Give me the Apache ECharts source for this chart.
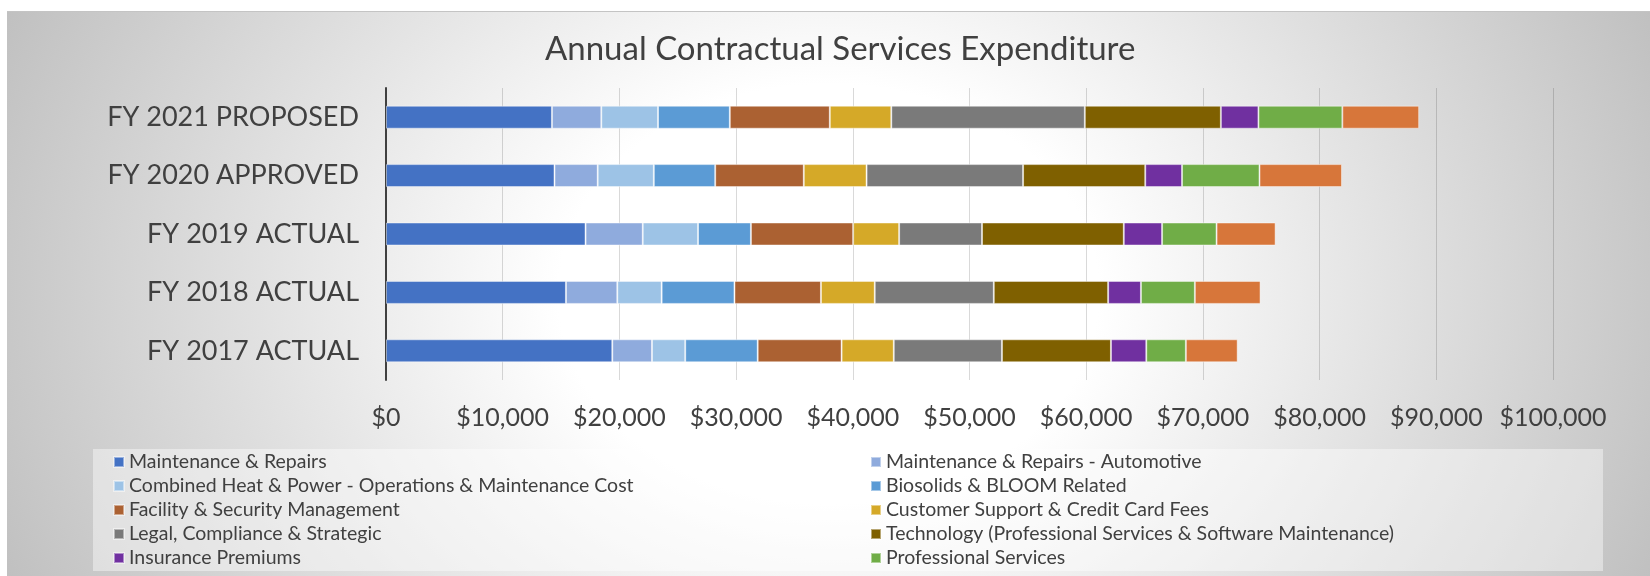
<!DOCTYPE html>
<html>
<head>
<meta charset="utf-8">
<script src="https://cdn.jsdelivr.net/npm/echarts@6/dist/echarts.min.js"></script>
<style>
  html, body { margin: 0; padding: 0; background: #ffffff; }
  #wrap { position: relative; width: 1650px; height: 576px; overflow: hidden; }
  #bg {
    position: absolute; left: 7px; top: 11px; right: 0; bottom: 0;
    border-top: 1px solid #c4c4c4;
    background: radial-gradient(ellipse 900px 700px at 50% 50%, #ffffff 0%, #ffffff 30%, #c0c0c0 100%);
  }
  #chart { position: absolute; left: 0; top: 0; width: 1650px; height: 576px; }
</style>
</head>
<body>
<div id="wrap">
  <div id="bg"></div>
  <div id="chart"></div>
</div>
<script>
// ---- data ----
const chartTitle = "Annual Contractual Services Expenditure";
const categories = ["FY 2017 ACTUAL", "FY 2018 ACTUAL", "FY 2019 ACTUAL", "FY 2020 APPROVED", "FY 2021 PROPOSED"];
const seriesNames = [
  "Maintenance & Repairs",
  "Maintenance & Repairs - Automotive",
  "Combined Heat & Power - Operations & Maintenance Cost",
  "Biosolids & BLOOM Related",
  "Facility & Security Management",
  "Customer Support & Credit Card Fees",
  "Legal, Compliance & Strategic",
  "Technology (Professional Services & Software Maintenance)",
  "Insurance Premiums",
  "Professional Services",
  "Other Services"
];
// values per category, order: FY2017, FY2018, FY2019, FY2020, FY2021
const maintenanceRepairs   = [19390, 15420, 17100, 14440, 14220];
const maintenanceAuto      = [3400, 4400, 4900, 3700, 4230];
const chpOperations        = [2850, 3800, 4740, 4810, 4860];
const biosolidsBloom       = [6210, 6240, 4530, 5260, 6150];
const facilitySecurity     = [7190, 7410, 8760, 7590, 8570];
const customerSupport      = [4470, 4610, 3940, 5380, 5270];
const legalCompliance      = [9270, 10200, 7100, 13410, 16580];
const technology           = [9340, 9800, 12150, 10470, 11660];
const insurancePremiums    = [3030, 2810, 3280, 3150, 3220];
const professionalServices = [3390, 4620, 4670, 6640, 7190];
const otherServices        = [4440, 5630, 5060, 7070, 6580];
const seriesValues = [maintenanceRepairs, maintenanceAuto, chpOperations, biosolidsBloom,
  facilitySecurity, customerSupport, legalCompliance, technology, insurancePremiums,
  professionalServices, otherServices];
const legendCount = 10; // the last series has no visible legend entry
const xTicks = { min: 0, max: 100000, interval: 10000 };

// ---- style ----
const colors = ["#4472C4", "#8FABDD", "#9DC3E6", "#5B9BD5", "#AB6132", "#D5A928",
  "#7A7A7A", "#7F6000", "#7030A0", "#70AD47", "#D7763A"];
const FONT = "Lato, 'Open Sans', sans-serif";
const TXT = "#404040";

const chart = echarts.init(document.getElementById('chart'), null, { renderer: 'canvas' });

const series = seriesNames.map((name, i) => ({
  name: name,
  type: 'bar',
  stack: 'total',
  barWidth: 23,
  data: seriesValues[i],
  itemStyle: { color: colors[i], borderColor: 'rgba(255,255,255,0.45)', borderWidth: 1 },
  emphasis: { disabled: true }
}));

const legendData = seriesNames.slice(0, legendCount).map((name, i) => ({
  name: name,
  textStyle: { width: i % 2 === 0 ? 741 : 717 }
}));

chart.setOption({
  backgroundColor: 'transparent',
  animation: false,
  color: colors,
  title: {
    text: chartTitle,
    left: 545,
    top: 33,
    padding: 0,
    textStyle: { fontFamily: FONT, fontSize: 33, fontWeight: 'normal', color: TXT }
  },
  legend: {
    data: legendData,
    orient: 'horizontal',
    left: 93,
    top: 449,
    width: 1490,
    padding: [1, 0, 1, 20],
    itemGap: 0,
    itemWidth: 10,
    itemHeight: 10,
    icon: 'rect',
    backgroundColor: 'rgba(255,255,255,0.42)',
    selectedMode: false,
    textStyle: { fontFamily: FONT, fontSize: 19.5, color: TXT, lineHeight: 24, overflow: 'truncate' }
  },
  grid: { left: 386, right: 97, top: 88, bottom: 196, containLabel: false },
  xAxis: {
    type: 'value',
    min: xTicks.min, max: xTicks.max, interval: xTicks.interval,
    axisLine: { show: false },
    axisTick: { show: false },
    splitLine: { show: true, lineStyle: { color: 'rgba(0,0,0,0.15)', width: 1 } },
    axisLabel: {
      margin: 25,
      fontFamily: FONT, fontSize: 25, color: TXT,
      formatter: v => '$' + v.toLocaleString('en-US')
    }
  },
  yAxis: {
    type: 'category',
    data: categories,
    axisLine: { show: true, lineStyle: { color: '#404040', width: 2 } },
    axisTick: { show: false },
    splitLine: { show: false },
    axisLabel: { margin: 27, fontFamily: FONT, fontSize: 27, color: TXT }
  },
  series: series
});
</script>
</body>
</html>
